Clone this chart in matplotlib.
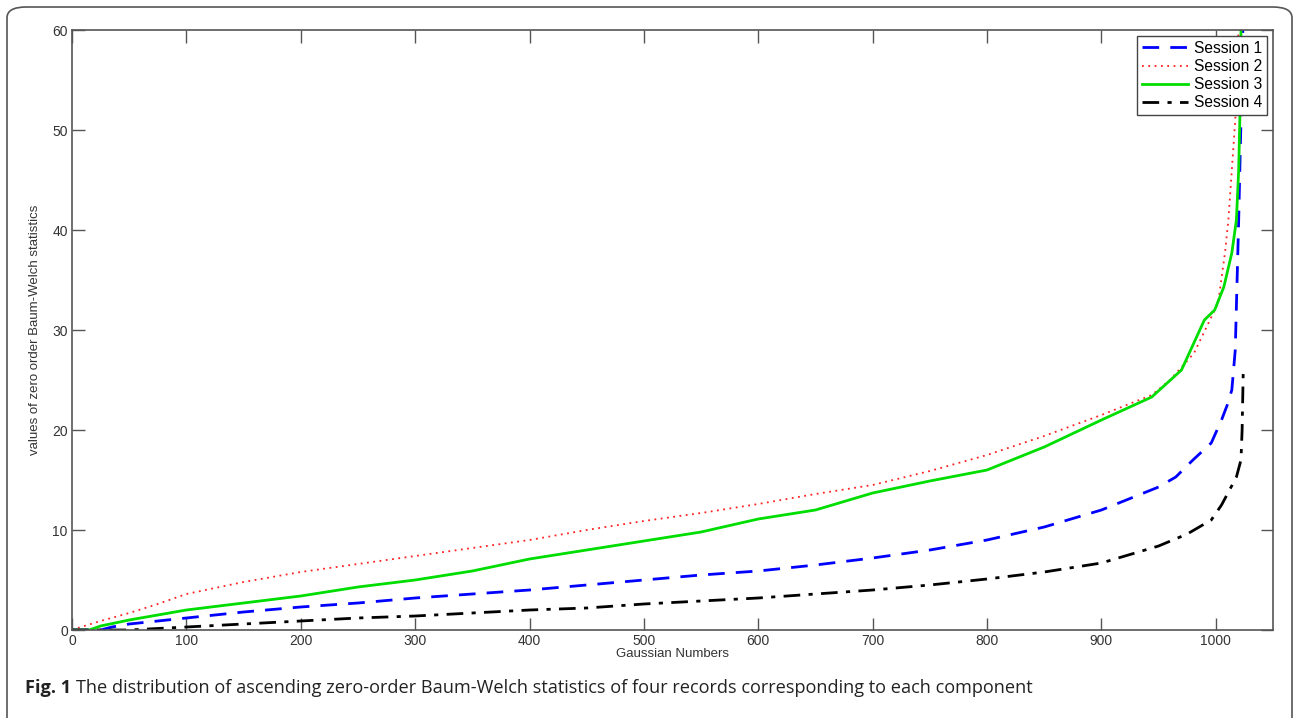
import matplotlib
matplotlib.use('Agg')
import matplotlib.pyplot as plt
from matplotlib.patches import FancyBboxPatch

# ascending zero-order statistics
x1 = [0, 25, 35, 50, 75, 100, 150, 200, 250, 300, 350, 400, 450, 500, 550, 600, 650, 700,
      750, 800, 850, 900, 950, 965, 980, 996, 1005, 1010, 1014, 1017, 1020, 1022, 1024]
s1 = [0, 0, 0.3, 0.6, 0.9, 1.2, 1.8, 2.3, 2.7, 3.2, 3.6, 4.0, 4.5, 5.0, 5.5, 5.9, 6.5, 7.2,
      8.0, 9.0, 10.3, 12.0, 14.3, 15.3, 17.0, 18.7, 21.0, 22.5, 24.0, 28.0, 41.0, 51.0, 62.0]

x2 = [0, 5, 25, 50, 75, 100, 150, 200, 250, 300, 350, 400, 450, 500, 550, 600, 650, 700,
      750, 800, 850, 900, 944, 960, 981, 1002, 1008, 1011, 1014, 1017, 1019, 1020]
s2 = [0, 0.2, 0.9, 1.7, 2.6, 3.6, 4.8, 5.8, 6.6, 7.4, 8.2, 9.0, 10.0, 10.9, 11.7, 12.6, 13.6, 14.5,
      15.9, 17.5, 19.4, 21.5, 23.5, 25.0, 27.7, 32.7, 37.7, 41.0, 46.0, 51.0, 56.0, 61.0]

x3 = [0, 15, 25, 50, 75, 100, 150, 200, 250, 300, 350, 400, 450, 500, 550, 600, 650, 700,
      750, 800, 850, 900, 944, 970, 990, 999, 1007, 1014, 1018, 1020, 1021, 1022, 1024]
s3 = [0, 0, 0.4, 1.0, 1.5, 2.0, 2.7, 3.4, 4.3, 5.0, 5.9, 7.1, 8.0, 8.9, 9.8, 11.1, 12.0, 13.7,
      14.9, 16.0, 18.3, 21.0, 23.3, 26.0, 31.0, 32.0, 34.3, 37.7, 41.0, 46.0, 51.0, 60.0, 70.0]

x4 = [0, 50, 75, 100, 150, 200, 250, 300, 350, 400, 450, 500, 550, 600, 650, 700, 750, 800,
      850, 900, 950, 975, 996, 1005, 1012, 1018, 1022, 1023, 1024]
s4 = [0, 0, 0.15, 0.3, 0.6, 0.9, 1.2, 1.4, 1.7, 2.0, 2.2, 2.6, 2.9, 3.2, 3.6, 4.0, 4.5, 5.1,
      5.8, 6.7, 8.4, 9.6, 11.0, 12.5, 14.0, 15.3, 17.0, 20.0, 26.0]

labels = ['Session 1', 'Session 2', 'Session 3', 'Session 4']
caption = 'The distribution of ascending zero-order Baum-Welch statistics of four records corresponding to each component'

plt.rcParams['font.family'] = ['Liberation Sans', 'DejaVu Sans']

fig = plt.figure(figsize=(12.94, 7.18), dpi=100)
ax = fig.add_axes([72/1294, 88/718, 1201/1294, 600/718])

ax.plot(x1, s1, color='#0000ff', ls=(0, (6, 4)), lw=2.0, label=labels[0])
ax.plot(x2, s2, color='#ff2020', ls=(0, (1, 2.5)), lw=1.3, label=labels[1])
ax.plot(x3, s3, color='#00dd00', ls='-', lw=2.0, label=labels[2])
ax.plot(x4, s4, color='black', ls=(0, (6, 3, 1.5, 3)), lw=2.0, label=labels[3])

ax.set_xlim(0, 1050)
ax.set_ylim(0, 60)
ax.set_xticks(range(0, 1001, 100))
ax.set_yticks(range(0, 61, 10))
ax.tick_params(direction='in', length=9, width=1, top=True, right=True,
               labelsize=10, labelcolor='#333333', color='#555555', pad=3)
for sp in ax.spines.values():
    sp.set_color('#555555')
    sp.set_linewidth(1.2)

ax.set_xlabel('Gaussian Numbers', fontsize=9.5, color='#333333', labelpad=0)
ax.set_ylabel('values of zero order Baum-Welch statistics', fontsize=9.5, color='#333333', labelpad=8)

leg = ax.legend(loc='upper right', fontsize=11.2, frameon=True, fancybox=False,
                borderaxespad=0.4, handlelength=3.0, handletextpad=0.35,
                labelspacing=0.2, borderpad=0.3, framealpha=1)
leg.get_frame().set_edgecolor('#444444')
leg.get_frame().set_linewidth(1.0)

# rounded frame round the whole figure
frame = FancyBboxPatch((7/1294, -0.05), 1285/1294, 1.05 - 7/718,
                       boxstyle='round,pad=0,rounding_size=0.015',
                       transform=fig.transFigure, fill=False,
                       edgecolor='#555555', lw=1.2, clip_on=False)
fig.patches.append(frame)

t1 = fig.text(25/1294, 1 - 693/718, 'Fig. 1', fontsize=13.1, fontweight='bold',
              family=['Open Sans', 'DejaVu Sans'], color='#222222', va='baseline')
fig.canvas.draw()
bb = t1.get_window_extent()
fig.text((bb.x1 + 5) / 1294, 1 - 693/718, caption, fontsize=13.1,
         family=['Open Sans', 'DejaVu Sans'], color='#222222', va='baseline')

fig.savefig('out.png', dpi=100)
